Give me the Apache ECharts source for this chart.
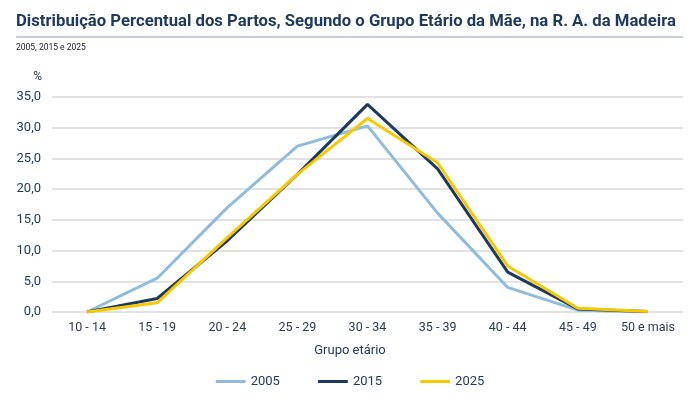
<!DOCTYPE html>
<html>
<head>
<meta charset="utf-8">
<script src="https://cdn.jsdelivr.net/npm/echarts@6/dist/echarts.min.js"></script>
<style>
  html, body { margin: 0; padding: 0; background: #fff; }
  #chart { width: 700px; height: 400px; }
</style>
</head>
<body>
<div id="chart"></div>
<script>
// grupos etários
var categorias = ['10 - 14', '15 - 19', '20 - 24', '25 - 29', '30 - 34', '35 - 39', '40 - 44', '45 - 49', '50 e mais'];
var anos = ['2005', '2015', '2025'];
var v2005 = [0.0, 5.5, 17.0, 27.0, 30.3, 16.1, 4.0, 0.3, 0.0];
var v2015 = [0.0, 2.2, 11.6, 22.4, 33.8, 23.3, 6.5, 0.5, 0.1];
var v2025 = [0.0, 1.5, 12.1, 22.4, 31.5, 24.3, 7.5, 0.6, 0.1];
var cores = ['#8fbcdc', '#1b3a5e', '#f7c900'];

var azul = '#1f3a60';
var fonte = 'Roboto';

var chartDom = document.getElementById('chart');
var myChart = echarts.init(chartDom);

var valores = [v2005, v2015, v2025];
var series = anos.map(function (ano, i) {
    return {
        name: ano,
        type: 'line',
        data: valores[i],
        symbol: 'none',
        lineStyle: { width: 3, color: cores[i] },
        itemStyle: { color: cores[i] },
        z: 2 + i
    };
});

var option = {
    animation: false,
    title: {
        text: 'Distribuição Percentual dos Partos, Segundo o Grupo Etário da Mãe, na R. A. da Madeira',
        subtext: '2005, 2015 e 2025',
        left: 11,
        top: 8,
        itemGap: 13,
        textStyle: { fontFamily: fonte, fontSize: 16.7, fontWeight: 'bold', color: azul },
        subtextStyle: { fontFamily: fonte, fontSize: 8.5, color: '#222' }
    },
    graphic: [{
        type: 'line',
        shape: { x1: 16, y1: 37, x2: 683, y2: 37 },
        style: { stroke: '#8a9bb3', lineWidth: 1 }
    }, {
        type: 'text',
        x: 350,
        y: 351,
        style: {
            text: 'Grupo etário',
            fontFamily: fonte, fontSize: 13, fill: azul,
            align: 'center', verticalAlign: 'middle'
        }
    }],
    legend: {
        data: anos,
        bottom: 7,
        left: 'center',
        icon: 'roundRect',
        itemWidth: 30,
        itemHeight: 3,
        itemGap: 38,
        textStyle: { fontFamily: fonte, fontSize: 13, color: azul }
    },
    grid: { left: 52, right: 17, top: 97, bottom: 88 },
    xAxis: {
        type: 'category',
        data: categorias,
        axisLine: { show: false },
        axisTick: { show: false },
        axisLabel: { fontFamily: fonte, fontSize: 12.5, color: '#2a3a55', margin: 9, interval: 0 }
    },
    yAxis: {
        type: 'value',
        min: 0,
        max: 35,
        interval: 5,
        name: '%',
        nameGap: 14,
        nameTextStyle: { fontFamily: fonte, fontSize: 12, color: azul, align: 'right', padding: [0, 10, 0, 0] },
        axisLabel: {
            fontFamily: fonte, fontSize: 13, color: azul, margin: 11,
            formatter: function (v) { return v.toFixed(1).replace('.', ','); }
        },
        splitLine: { lineStyle: { color: '#d9d9d9', width: 1.5 } }
    },
    series: series
};
option && myChart.setOption(option);
</script>
</body>
</html>
